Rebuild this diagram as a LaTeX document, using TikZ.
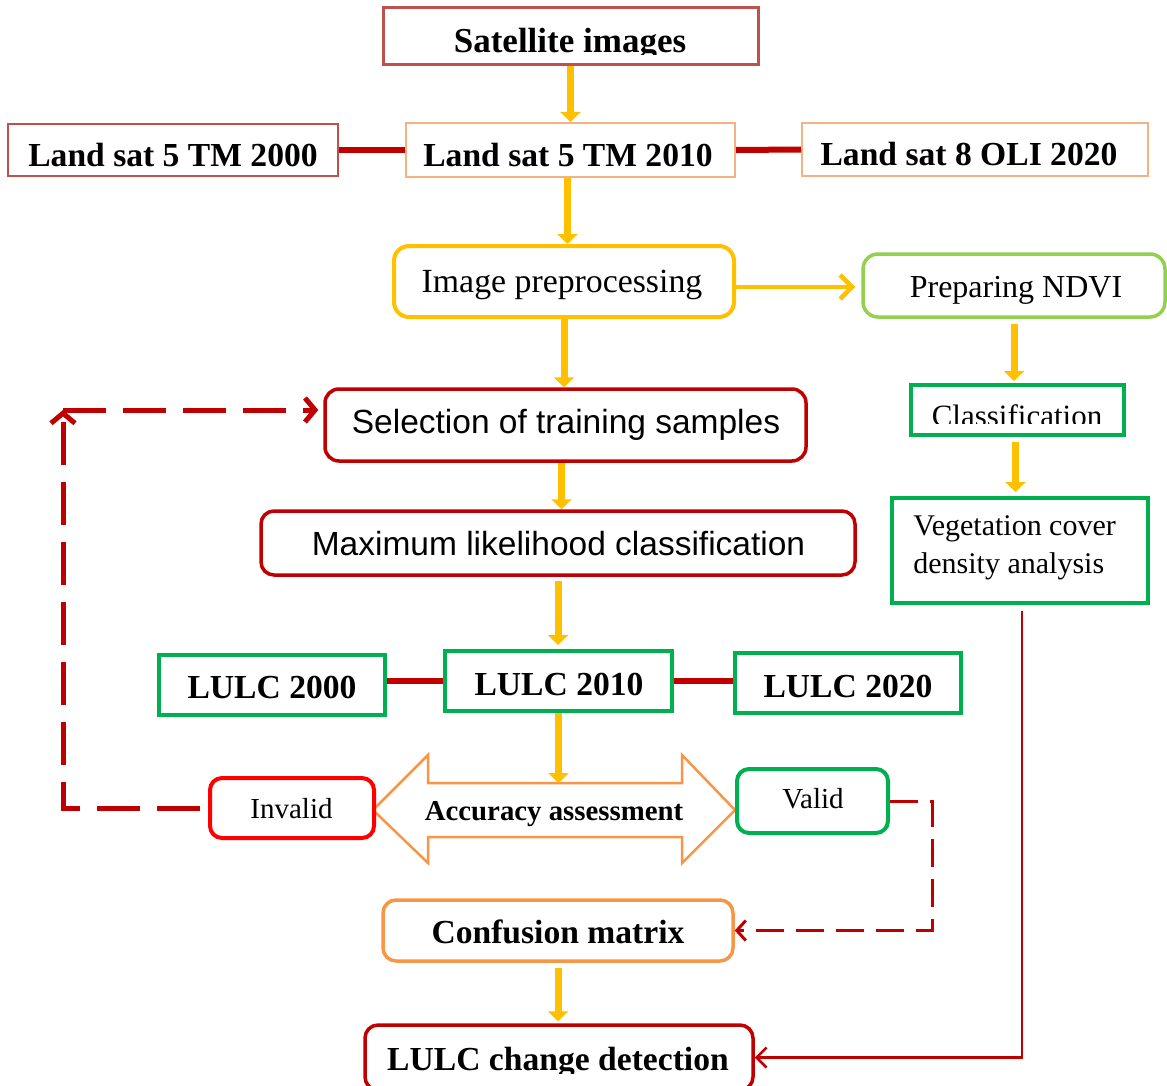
\documentclass[tikz,border=0pt]{standalone}
\usepackage{fontspec}
\setmainfont{Liberation Serif}
\newfontfamily\arialf{Liberation Sans}
\usetikzlibrary{arrows.meta}
\definecolor{brick}{HTML}{C0504D}
\definecolor{peach}{HTML}{F4B183}
\definecolor{dred}{HTML}{C00000}
\definecolor{amber}{HTML}{FFC000}
\definecolor{lgreen}{HTML}{92D050}
\definecolor{mgreen}{HTML}{00B050}
\definecolor{brightred}{HTML}{FF0000}
\definecolor{orng}{HTML}{F79646}
\begin{document}
\begin{tikzpicture}[x=0.5pt,y=-0.5pt,
  box/.style={draw, inner sep=0pt, fill=white},
  rbox/.style={box, rounded corners=6.5pt},
  tb/.style={anchor=base, inner sep=0pt, font=\fontsize{16.8pt}{20pt}\selectfont\bfseries},
  tr/.style={anchor=base, inner sep=0pt},
  ta/.style={anchor=base, inner sep=0pt, font=\fontsize{16.75pt}{20pt}\selectfont\arialf},
  yarrow/.style={draw=amber, line width=3.5pt, -{Triangle[width=10pt,length=5pt]}},
  ychev/.style={draw=amber, line width=2.25pt, -{Straight Barb[length=6pt,width=12pt]}},
  link/.style={draw=dred, line width=3pt},
  dloop/.style={draw=dred, line width=2.5pt, dash pattern=on 21.5pt off 8.5pt},
  dloopb/.style={draw=dred, line width=1.5pt, dash pattern=on 14pt off 6pt},
  thinred/.style={draw=dred, line width=1.25pt, -{Straight Barb[length=5pt,width=10pt]}},
]
\useasboundingbox (0,0) rectangle (1167,1086);
\clip (0,0) rectangle (1167,1086);

% top
\node[box, draw=brick, line width=1.5pt, minimum width=187.5pt, minimum height=28.5pt] (sat) at (570.5,36.5) {};
\begin{scope}
\clip (383,8) rectangle (758,55);
\node[tb, font=\fontsize{17.5pt}{20pt}\selectfont\bfseries] (satt) at (570,53) {Satellite images};
\end{scope}

\node[box, draw=brick, line width=1pt, minimum width=165pt, minimum height=26pt] (ls2000) at (173,150) {};
\node[tb] (ls2000t) at (173,166) {Land sat 5 TM 2000};
\node[box, draw=peach, line width=1pt, minimum width=164.5pt, minimum height=27pt] (ls2010) at (570.5,150) {};
\node[tb] (ls2010t) at (568,166) {Land sat 5 TM 2010};
\node[box, draw=peach, line width=1pt, minimum width=173pt, minimum height=26.5pt] (ls2020) at (975,149.5) {};
\node[tb] (ls2020t) at (969,165) {Land sat 8 OLI 2020};

% preprocessing
\node[rbox, draw=amber, line width=2pt, minimum width=170pt, minimum height=35.5pt, rounded corners=7.5pt] (prep) at (564,281.5) {};
\node[tr, font=\fontsize{16.9pt}{20pt}\selectfont] (prept) at (562,292) {Image preprocessing};
\node[rbox, draw=lgreen, line width=1.75pt, minimum width=151pt, minimum height=31.5pt, rounded corners=7.5pt] (ndvi) at (1014,285.5) {};
\node[tr, font=\fontsize{16pt}{20pt}\selectfont] (ndvit) at (1016,297) {Preparing NDVI};

\node[box, draw=mgreen, line width=2pt, minimum width=106.5pt, minimum height=25pt] (cls) at (1017.5,410) {};
\begin{scope}
\clip (911,385) rectangle (1124,423);
\node[tr, font=\fontsize{15.5pt}{20pt}\selectfont] (clst) at (1017,426) {Classification};
\end{scope}
\node[box, draw=mgreen, line width=2pt, minimum width=128pt, minimum height=52.5pt] (veg) at (1020,550.5) {};
\node[anchor=base west, inner sep=0pt, font=\fontsize{15pt}{20pt}\selectfont] (vegta) at (913,535) {Vegetation cover};
\node[anchor=base west, inner sep=0pt, font=\fontsize{15pt}{20pt}\selectfont] (vegtb) at (913,573) {density analysis};

% classification chain
\node[rbox, draw=dred, line width=1.75pt, minimum width=240.5pt, minimum height=36pt, rounded corners=7pt] (sel) at (565.5,425) {};
\node[ta] (selt) at (566,433) {Selection of training samples};
\node[rbox, draw=dred, line width=1.75pt, minimum width=297pt, minimum height=32pt] (mlc) at (558,543) {};
\node[ta] (mlct) at (558.5,555) {Maximum likelihood classification};

\node[box, draw=mgreen, line width=2pt, minimum width=113pt, minimum height=30pt] (l2000) at (272,685) {};
\node[tb] (l2000t) at (272,698) {LULC 2000};
\node[box, draw=mgreen, line width=2pt, minimum width=113.5pt, minimum height=30pt] (l2010) at (558.5,681) {};
\node[tb] (l2010t) at (559,695) {LULC 2010};
\node[box, draw=mgreen, line width=2pt, minimum width=113pt, minimum height=30pt] (l2020) at (848,683) {};
\node[tb] (l2020t) at (848,697) {LULC 2020};

% accuracy double arrow
\draw[draw=orng, line width=1.25pt, fill=white, line join=miter]
  (373,810) -- (428,755) -- (428,783) -- (682,783) -- (682,755) -- (735,810)
  -- (682,863) -- (682,837) -- (428,837) -- (428,863) -- cycle;
\coordinate (accn) at (559,783);
\node[tr, font=\fontsize{14.4pt}{18pt}\selectfont\bfseries] (acct) at (554,820) {Accuracy assessment};

\node[rbox, draw=brightred, line width=2pt, minimum width=82pt, minimum height=30pt, rounded corners=6pt] (inv) at (292,808) {};
\node[tr, font=\fontsize{14.5pt}{18pt}\selectfont] (invt) at (291.5,818) {Invalid};
\node[rbox, draw=mgreen, line width=2pt, minimum width=75.5pt, minimum height=32pt, rounded corners=6pt] (val) at (812.5,801) {};
\node[tr, font=\fontsize{14.5pt}{18pt}\selectfont] (valt) at (813,808) {Valid};

\node[rbox, draw=orng, line width=1.75pt, minimum width=175pt, minimum height=30.5pt] (conf) at (558,930.5) {};
\node[tb] (conft) at (558,943) {Confusion matrix};
\node[rbox, draw=dred, line width=1.75pt, minimum width=194pt, minimum height=32.5pt] (chg) at (559,1057.5) {};
\begin{scope}
\clip (365,1025) rectangle (753,1073);
\node[tb] (chgt) at (558,1070) {LULC change detection};
\end{scope}

% connectors
\draw[yarrow] (sat.south) -- (ls2010.north);
\draw[link] (ls2000.east) -- (ls2010.west);
\draw[link] (ls2010.east) -- (ls2020.west);
\draw[yarrow] ([xshift=-1.5pt]ls2010.south) -- ([xshift=-1.5pt]ls2010.south |- prep.north);
\draw[ychev, shorten >=3pt] ([yshift=-2.75pt]prep.east) -- ([yshift=-2.75pt]prep.east -| ndvi.west);
\draw[yarrow] (prep.south) -- (prep.south |- sel.north);
\draw[yarrow] ([xshift=-2pt]sel.south) -- ([xshift=-2pt]sel.south |- mlc.north);
\draw[yarrow, shorten <=2pt, shorten >=2pt] (mlc.south) -- (mlc.south |- l2010.north);
\draw[link] (l2000.east |- l2010.west) -- (l2010.west);
\draw[link] (l2010.east) -- (l2010.east -| l2020.west);
\draw[yarrow] (l2010.south) -- (l2010.south |- accn);
\draw[yarrow, shorten <=2.5pt, shorten >=1pt] (ndvi.south) -- (ndvi.south |- cls.north);
\draw[yarrow, shorten <=2.5pt, shorten >=2pt] ([xshift=-1pt]cls.south) -- ([xshift=-1pt]cls.south |- veg.north);
\draw[yarrow, shorten <=2.5pt, shorten >=1pt] (conf.south) -- (conf.south |- chg.north);
\draw[thinred, shorten <=3pt] ([xshift=1pt]veg.south) |- (chg.east);

\coordinate (lc) at (63,410);
\draw[dloop, shorten <=4pt, -{Straight Barb[length=5pt,width=12pt]}] (inv.west) -| (lc);
\draw[dloop, shorten >=2.5pt, -{Straight Barb[length=5pt,width=12pt]}] (lc) -- (sel.west |- lc);
\draw[dloopb, -{Straight Barb[length=4.5pt,width=10pt]}] (val.east) -- ++(42,0) |- (conf.east);
\end{tikzpicture}
\end{document}
